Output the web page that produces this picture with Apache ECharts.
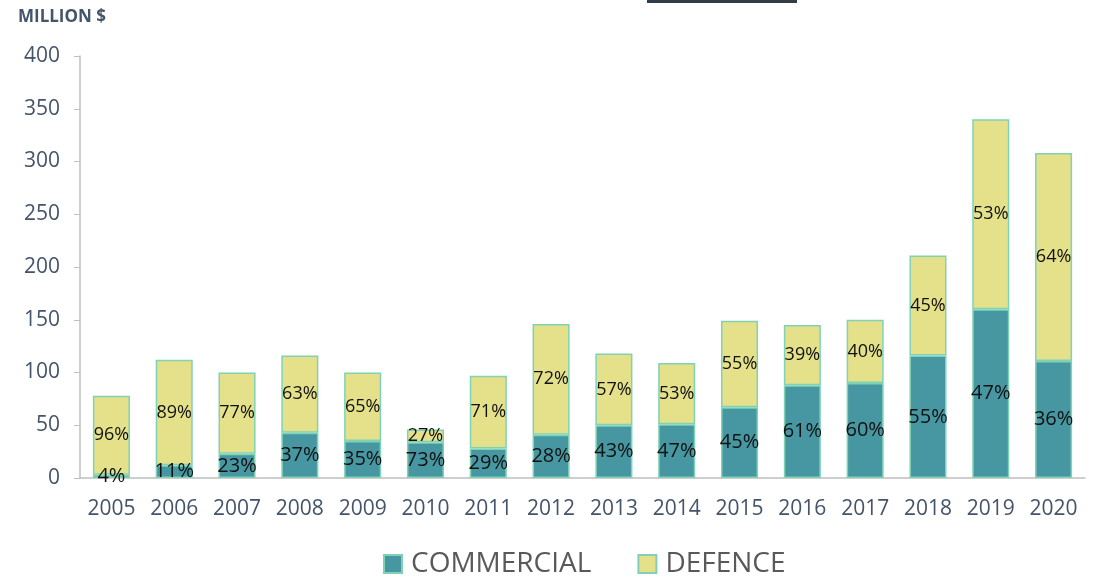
<!DOCTYPE html>
<html>
<head>
<meta charset="utf-8">
<script src="https://cdn.jsdelivr.net/npm/echarts@6/dist/echarts.min.js"></script>
<style>
  html, body { margin: 0; padding: 0; background: #fff; }
  #chart { width: 1102px; height: 578px; }
</style>
</head>
<body>
<div id="chart"></div>
<script>
const years = ['2005', '2006', '2007', '2008', '2009', '2010', '2011', '2012',
  '2013', '2014', '2015', '2016', '2017', '2018', '2019', '2020']
const commercial = [3, 12, 23, 43, 35, 34, 28, 41, 50, 51, 67, 88, 90, 116, 160, 111]
const defence = [75, 100, 77, 73, 65, 12, 69, 105, 68, 58, 82, 57, 60, 95, 180, 197]
const commercialPct = ['4%', '11%', '23%', '37%', '35%', '73%', '29%', '28%',
  '43%', '47%', '45%', '61%', '60%', '55%', '47%', '36%']
const defencePct = ['96%', '89%', '77%', '63%', '65%', '27%', '71%', '72%',
  '57%', '53%', '55%', '39%', '40%', '45%', '53%', '64%']

const font = '"Open Sans", "Noto Sans", sans-serif'
const axisColor = '#44546A'

const chart = echarts.init(document.getElementById('chart'))
chart.setOption({
  animation: false,
  textStyle: { fontFamily: font },
  grid: { left: 80, right: 17, top: 56, bottom: 100 },
  graphic: [
    {
      type: 'text', left: 18, top: 9,
      style: { text: 'MILLION $', fill: axisColor, font: 'bold 17px ' + font }
    },
    {
      type: 'rect', shape: { x: 647, y: 0, width: 150, height: 3 },
      style: { fill: '#333d47' }
    }
  ],
  legend: {
    bottom: -5,
    left: 378,
    itemWidth: 18,
    itemHeight: 18,
    itemGap: 46,
    icon: 'rect',
    textStyle: { fontSize: 28, color: '#595959', fontFamily: font, padding: [0, 0, 0, 4] },
    data: ['COMMERCIAL', 'DEFENCE']
  },
  xAxis: {
    type: 'category',
    data: years,
    axisLine: { lineStyle: { color: '#BFBFBF', width: 1.5 } },
    axisTick: { length: 6, lineStyle: { color: '#BFBFBF' } },
    axisLabel: { fontSize: 21, color: axisColor, margin: 21 }
  },
  yAxis: {
    type: 'value',
    min: 0,
    max: 400,
    interval: 50,
    splitLine: { show: false },
    axisLine: { show: true, lineStyle: { color: '#BFBFBF', width: 1.5 } },
    axisTick: { show: true, length: 6, lineStyle: { color: '#BFBFBF' } },
    axisLabel: { fontSize: 21, color: axisColor, margin: 20 }
  },
  series: [
    {
      name: 'COMMERCIAL',
      type: 'bar',
      stack: 'total',
      barWidth: '59%',
      data: commercial,
      itemStyle: { color: '#4797A3', borderColor: '#7FD3B4', borderWidth: 1.5 },
      label: {
        show: true, position: 'inside', fontSize: 20, color: '#111',
        formatter: (p) => commercialPct[p.dataIndex]
      }
    },
    {
      name: 'DEFENCE',
      type: 'bar',
      stack: 'total',
      data: defence,
      itemStyle: { color: '#E4E18A', borderColor: '#7FD3B4', borderWidth: 1.5 },
      label: {
        show: true, position: 'inside', fontSize: 18, color: '#111',
        formatter: (p) => defencePct[p.dataIndex]
      }
    }
  ]
})
</script>
</body>
</html>
